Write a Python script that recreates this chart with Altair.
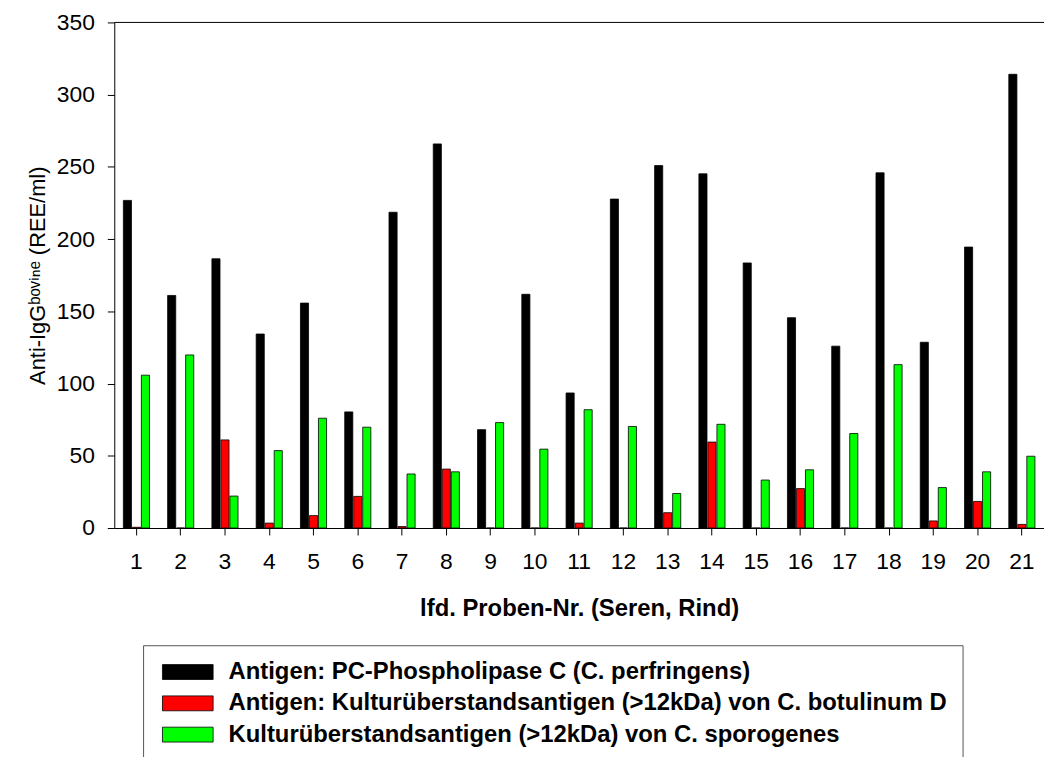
import altair as alt
import pandas as pd

samples = [str(i) for i in range(1, 22)]
series_names = [
    "Antigen: PC-Phospholipase C (C. perfringens)",
    "Antigen: Kulturüberstandsantigen (>12kDa) von C. botulinum D",
    "Kulturüberstandsantigen (>12kDa) von C. sporogenes",
]
series_colors = ["#000000", "#FF0000", "#00FF00"]

pc_values = [226.8, 161.0, 186.4, 134.3, 155.7, 80.4, 218.6, 265.9, 68.1, 161.8, 93.5,
             227.7, 250.9, 245.2, 183.5, 145.6, 125.9, 245.9, 128.6, 194.5, 314.1]
botulinum_values = [0.5, 0.0, 61.0, 3.4, 8.6, 21.9, 1.0, 40.8, 0.0, 0.0, 3.4,
                    0.0, 10.6, 59.5, 0.0, 27.3, 0.0, 0.0, 4.9, 18.4, 2.5]
sporogenes_values = [105.8, 119.8, 22.1, 53.6, 76.0, 69.8, 37.4, 38.9, 73.0, 54.6, 81.9,
                     70.3, 23.9, 71.8, 33.2, 40.3, 65.4, 113.1, 28.0, 38.9, 49.7]
y_ticks = [0, 50, 100, 150, 200, 250, 300, 350]
y_max = [350]

rows = []
for name, vals in zip(series_names, [pc_values, botulinum_values, sporogenes_values]):
    for s, v in zip(samples, vals):
        rows.append({"sample": s, "series": name, "value": v})
df = pd.DataFrame(rows)

FONT = "Liberation Sans"

bars = alt.Chart(df).mark_bar(stroke="black", strokeWidth=0.8).encode(
    x=alt.X(
        "sample:N",
        sort=samples,
        scale=alt.Scale(paddingInner=0.41, paddingOuter=0.205),
        axis=alt.Axis(
            title="lfd. Proben-Nr. (Seren, Rind)",
            labelAngle=0,
            labelPadding=16,
            titleFontWeight="bold",
            titleFontSize=24,
            titleX=468,
            titleY=88,
            titleBaseline="alphabetic",
        ),
    ),
    xOffset=alt.XOffset("series:N", sort=series_names, scale=alt.Scale(paddingInner=0.1)),
    y=alt.Y(
        "value:Q",
        scale=alt.Scale(domain=[0, 350], nice=False),
        axis=alt.Axis(
            title="Anti-IgGᵇᵒᵛⁱⁿᵉ (REE/ml)",
            values=y_ticks,
            labelPadding=13,
            titleFontWeight="normal",
            titleFontSize=22,
            titleAngle=270,
            titleX=-70,
            titleY=254.5,
            titleAlign="center",
            titleBaseline="alphabetic",
        ),
    ),
    color=alt.Color(
        "series:N",
        sort=series_names,
        scale=alt.Scale(domain=series_names, range=series_colors),
        legend=alt.Legend(
            title=None,
            orient="none",
            legendX=29,
            legendY=627,
            direction="vertical",
            symbolType="M-3.4,-1H3.4V1H-3.4Z",
            symbolSize=225,
            symbolStrokeColor="black",
            symbolStrokeWidth=0.8,
            symbolOffset=18,
            labelOffset=29,
            labelFont=FONT,
            labelFontSize=24,
            labelFontWeight="bold",
            labelColor="black",
            labelLimit=1000,
            padding=15,
            rowPadding=7.5,
            strokeColor="#555555",
            fillColor="white",
        ),
    ),
)

top_line = alt.Chart(pd.DataFrame({"v": y_max})).mark_rule(color="black", strokeWidth=1).encode(
    y="v:Q"
)

chart = (
    alt.layer(bars, top_line)
    .properties(
        width=936,
        height=509,
        autosize=alt.AutoSizeParams(type="none"),
        padding={"left": 107, "top": 12, "right": 0, "bottom": 228},
    )
    .configure_view(stroke=None)
    .configure_axis(
        grid=False,
        labelFont=FONT,
        labelFontSize=23,
        labelColor="black",
        titleFont=FONT,
        titleColor="black",
        tickColor="black",
        tickSize=7,
        tickWidth=1,
        domainColor="black",
        domainWidth=1,
    )
)

chart.save("out.html", embed_options={"renderer": "svg", "actions": False})
